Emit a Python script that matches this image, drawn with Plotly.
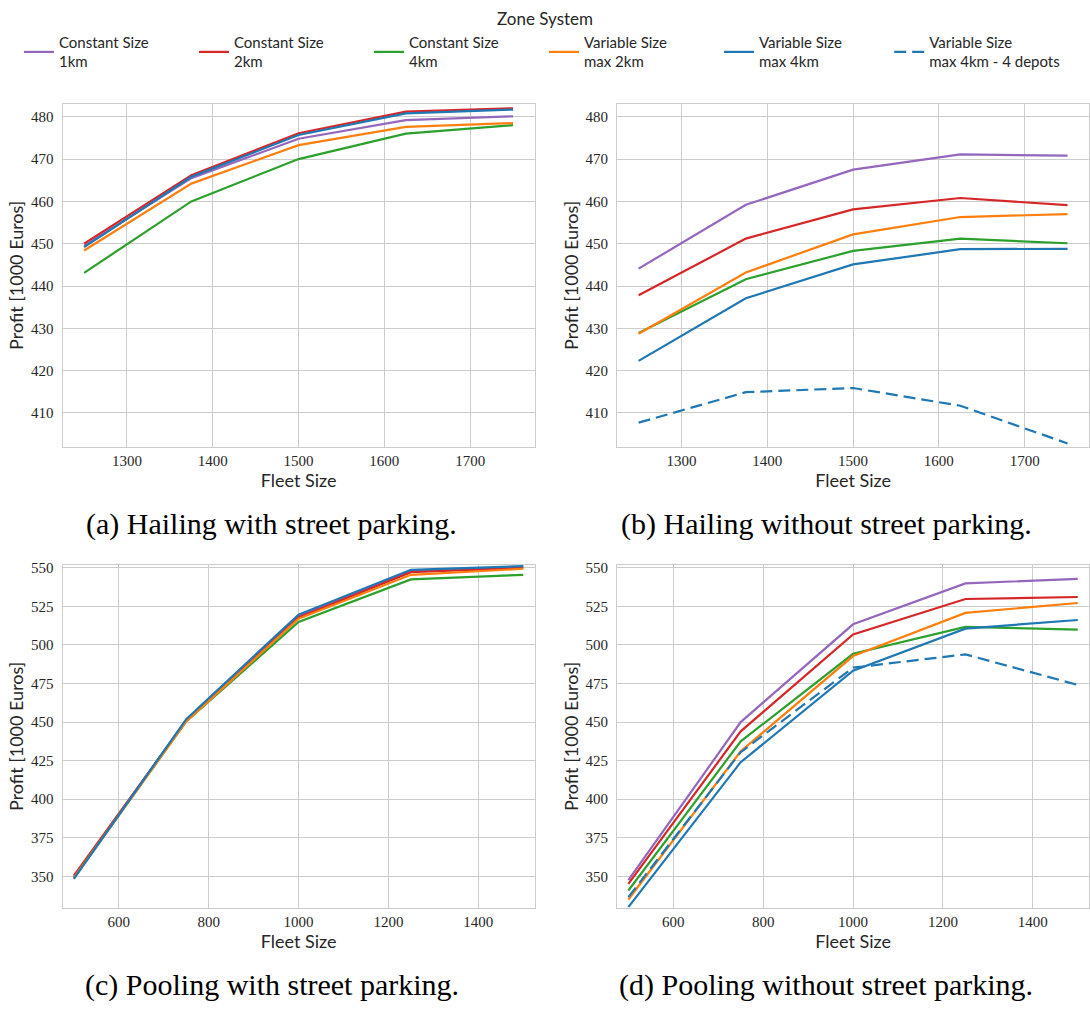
import plotly.graph_objects as go

# Fleet sizes for the two service modes
fleet_hailing = [1250, 1375, 1500, 1625, 1750]
fleet_pooling = [500, 750, 1000, 1250, 1500]

# Zone systems (legend labels) and their colours / dash styles
zone_labels = [
    "Constant Size<br>1km",
    "Constant Size<br>2km",
    "Constant Size<br>4km",
    "Variable Size<br>max 2km",
    "Variable Size<br>max 4km",
    "Variable Size<br>max 4km - 4 depots",
]
zone_colors = ["#9467bd", "#d62728", "#2ca02c", "#ff7f0e", "#1f77b4", "#1f77b4"]
zone_dashes = ["solid", "solid", "solid", "solid", "solid", "12px,6px"]
zone_legend = ["legend", "legend", "legend", "legend", "legend", "legend2"]

# (a) Hailing with street parking  [1000 Euros]
hail_street_1km = [449.5, 465.5, 474.8, 479.2, 480.1]
hail_street_2km = [450.0, 466.2, 476.1, 481.2, 482.0]
hail_street_4km = [443.1, 460.0, 470.0, 476.0, 478.0]
hail_street_var2 = [448.4, 464.2, 473.3, 477.6, 478.5]
hail_street_var4 = [449.2, 465.8, 475.7, 480.8, 481.7]

# (b) Hailing without street parking
hail_nostreet_1km = [444.1, 459.2, 467.5, 471.1, 470.8]
hail_nostreet_2km = [437.8, 451.2, 458.1, 460.8, 459.1]
hail_nostreet_4km = [428.9, 441.6, 448.3, 451.2, 450.1]
hail_nostreet_var2 = [428.7, 443.2, 452.2, 456.3, 457.0]
hail_nostreet_var4 = [422.3, 437.1, 445.1, 448.7, 448.8]
hail_nostreet_var4_depots = [407.7, 414.9, 415.9, 411.7, 402.8]

# (c) Pooling with street parking
pool_street_1km = [349.5, 451.0, 519.0, 548.1, 550.6]
pool_street_2km = [350.5, 451.0, 517.8, 547.2, 550.0]
pool_street_4km = [349.0, 450.4, 514.9, 542.5, 545.5]
pool_street_var2 = [349.0, 450.4, 517.0, 545.5, 549.4]
pool_street_var4 = [348.3, 451.9, 519.7, 548.7, 551.1]

# (d) Pooling without street parking
pool_nostreet_1km = [347.6, 450.0, 513.4, 539.9, 542.9]
pool_nostreet_2km = [345.1, 444.0, 506.8, 529.8, 531.1]
pool_nostreet_4km = [340.8, 437.5, 494.3, 511.7, 510.0]
pool_nostreet_var2 = [335.0, 431.1, 492.8, 520.8, 527.2]
pool_nostreet_var4 = [330.0, 424.0, 483.3, 510.6, 516.2]
pool_nostreet_var4_depots = [336.5, 430.5, 485.3, 493.9, 474.1]

# Axis ticks
hail_xticks = [1300, 1400, 1500, 1600, 1700]
pool_xticks = [600, 800, 1000, 1200, 1400]
hail_yticks = [410, 420, 430, 440, 450, 460, 470, 480]
pool_yticks = [350, 375, 400, 425, 450, 475, 500, 525, 550]

captions = [
    "(a) Hailing with street parking.",
    "(b) Hailing without street parking.",
    "(c) Pooling with street parking.",
    "(d) Pooling without street parking.",
]

panels = [
    ("x", "y", fleet_hailing,
     [hail_street_1km, hail_street_2km, hail_street_4km, hail_street_var2, hail_street_var4]),
    ("x2", "y2", fleet_hailing,
     [hail_nostreet_1km, hail_nostreet_2km, hail_nostreet_4km, hail_nostreet_var2,
      hail_nostreet_var4, hail_nostreet_var4_depots]),
    ("x3", "y3", fleet_pooling,
     [pool_street_1km, pool_street_2km, pool_street_4km, pool_street_var2, pool_street_var4]),
    ("x4", "y4", fleet_pooling,
     [pool_nostreet_1km, pool_nostreet_2km, pool_nostreet_4km, pool_nostreet_var2,
      pool_nostreet_var4, pool_nostreet_var4_depots]),
]

fig = go.Figure()
shown = set()
for xa, ya, fleet, series in panels:
    for i, vals in enumerate(series):
        fig.add_trace(go.Scatter(
            x=fleet, y=vals, mode="lines",
            name=zone_labels[i], legendgroup=str(i), legend=zone_legend[i],
            showlegend=i not in shown,
            line=dict(color=zone_colors[i], width=2.2, dash=zone_dashes[i]),
            xaxis=xa, yaxis=ya,
        ))
        shown.add(i)

W, H = 1090, 1009
col_x = [(62.7 / W, 535 / W), (617.7 / W, 1.0)]
row_y = [(1 - 444 / H, 1 - 99.3 / H), (1 - 907.3 / H, 1 - 562.7 / H)]

grid = "#cccccc"
txt = "#262626"
tick_font = dict(family="Liberation Serif", size=15, color=txt)
title_font = dict(family="Lato", size=18, color=txt)
legend_font = dict(family="Lato", size=15, color=txt)


def xaxis(dom, anchor, rng, ticks):
    return dict(domain=dom, anchor=anchor, range=rng, tickvals=ticks,
                showgrid=True, gridcolor=grid, gridwidth=1, zeroline=False,
                showline=True, mirror=True, linecolor=grid, linewidth=1.3,
                ticks="", tickfont=tick_font, ticklabelstandoff=0,
                title=dict(text="Fleet Size", font=title_font, standoff=0))


def yaxis(dom, anchor, rng, ticks):
    return dict(domain=dom, anchor=anchor, range=rng, tickvals=ticks,
                showgrid=True, gridcolor=grid, gridwidth=1, zeroline=False,
                showline=True, mirror=True, linecolor=grid, linewidth=1.3,
                ticks="", tickfont=tick_font, ticklabelstandoff=5,
                title=dict(text="Profit [1000 Euros]", font=title_font, standoff=2))


hail_xr = [1225, 1775]
pool_xr = [475, 1525]
hail_yr = [402.0, 483.06]
pool_yr = [329.6, 551.9]

legend_y = 1 - 21 / H

fig.update_layout(
    width=W, height=H,
    margin=dict(l=0, r=0, t=0, b=0),
    paper_bgcolor="white", plot_bgcolor="white",
    xaxis=xaxis(col_x[0], "y", hail_xr, hail_xticks),
    yaxis=yaxis(row_y[0], "x", hail_yr, hail_yticks),
    xaxis2=xaxis(col_x[1], "y2", hail_xr, hail_xticks),
    yaxis2=yaxis(row_y[0], "x2", hail_yr, hail_yticks),
    xaxis3=xaxis(col_x[0], "y3", pool_xr, pool_xticks),
    yaxis3=yaxis(row_y[1], "x3", pool_yr, pool_yticks),
    xaxis4=xaxis(col_x[1], "y4", pool_xr, pool_xticks),
    yaxis4=yaxis(row_y[1], "x4", pool_yr, pool_yticks),
    legend=dict(
        orientation="h", x=19 / W, xanchor="left", y=legend_y, yanchor="top",
        entrywidth=130, entrywidthmode="pixels",
        font=legend_font, bgcolor="rgba(0,0,0,0)", tracegroupgap=0,
    ),
    legend2=dict(
        orientation="h", x=890 / W, xanchor="left", y=legend_y, yanchor="top",
        font=legend_font, bgcolor="rgba(0,0,0,0)",
    ),
    showlegend=True,
)

# Legend heading
fig.add_annotation(text="Zone System", x=545 / W, y=1 - 14 / H, xref="paper", yref="paper",
                   xanchor="center", yanchor="middle", showarrow=False,
                   font=dict(family="Lato", size=17, color=txt))

cap_pos = [(272 / W, 1 - 522 / H), (827 / W, 1 - 522 / H),
           (272 / W, 1 - 985 / H), (827 / W, 1 - 985 / H)]
for text, (cx, cy) in zip(captions, cap_pos):
    fig.add_annotation(text=text, x=cx, y=cy, xref="paper", yref="paper",
                       xanchor="center", yanchor="middle", showarrow=False,
                       font=dict(family="Liberation Serif", size=30, color="black"))

fig.write_html("out.html")
